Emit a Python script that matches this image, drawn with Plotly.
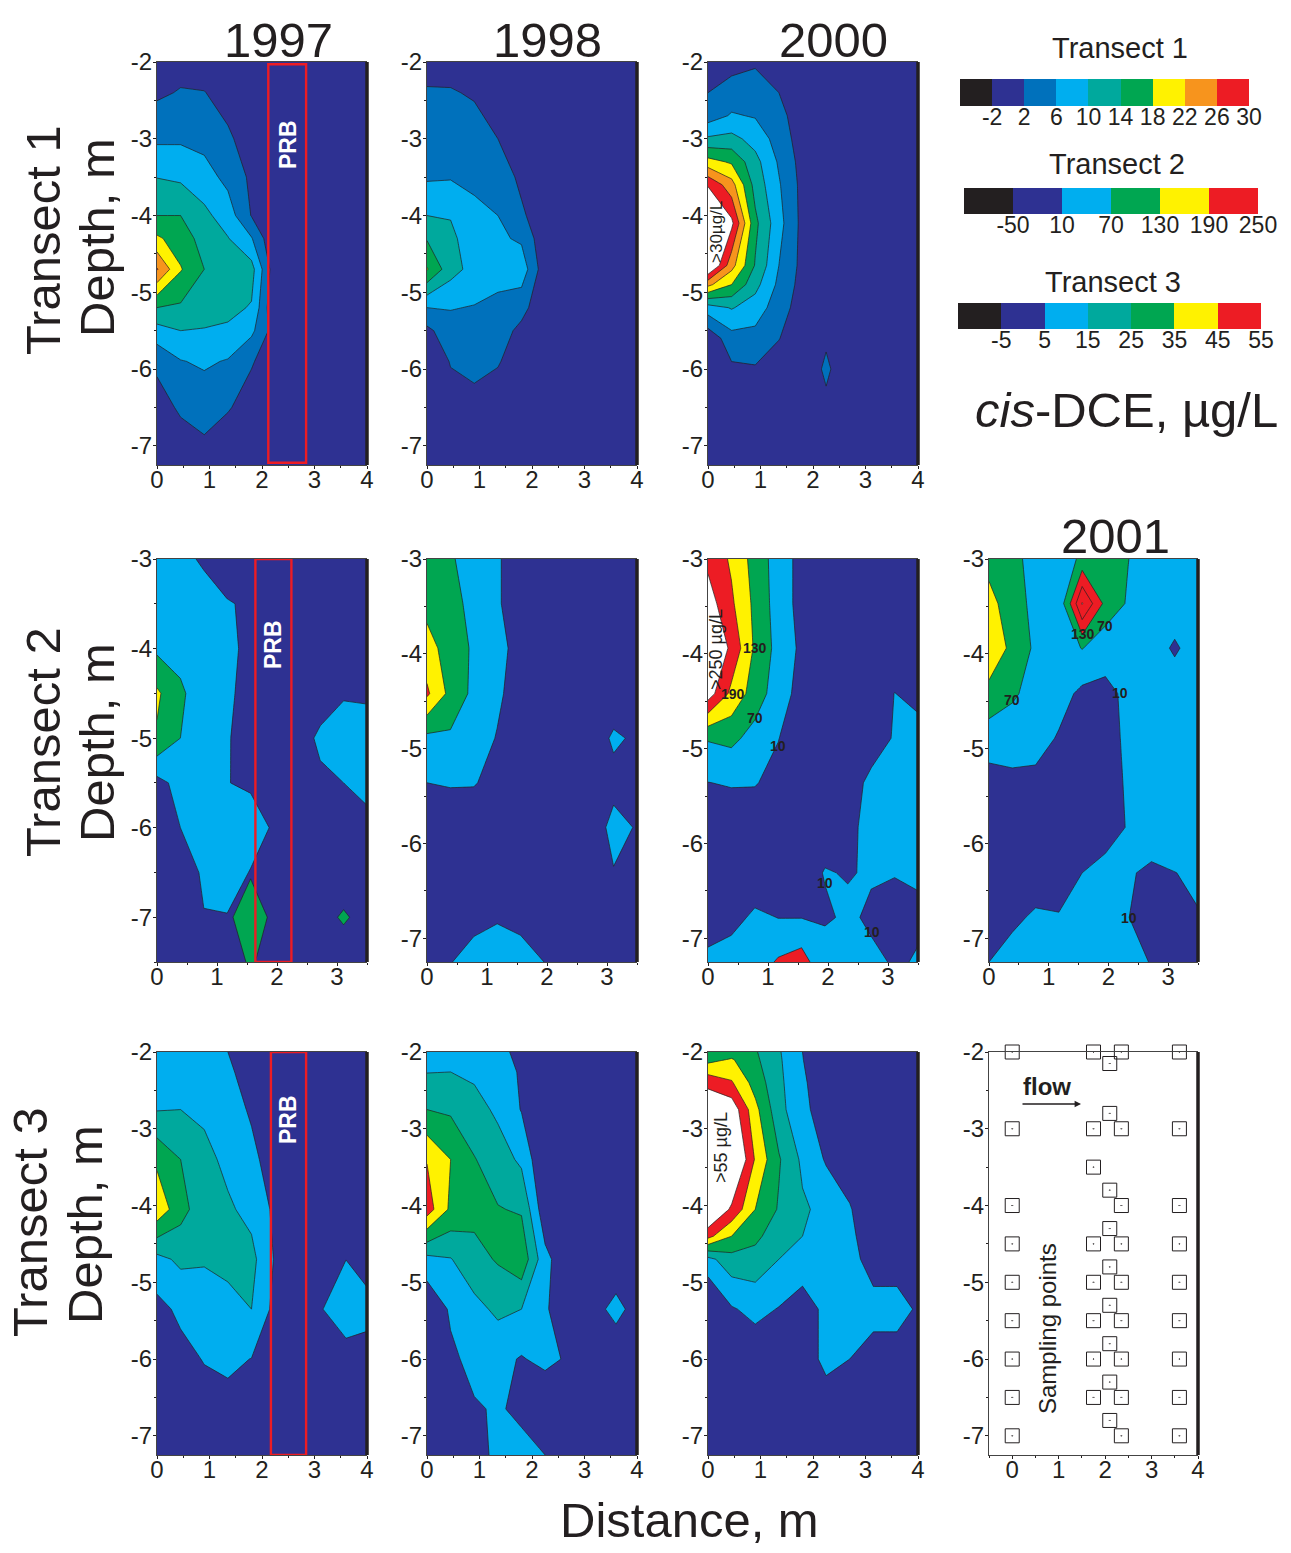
import plotly.graph_objects as go

W, H = 1291, 1553
FONT = "Liberation Sans"
INK = "#231F20"
NAVY, BLUE, SKY, TEAL, GREEN, YELLOW, ORANGE, RED = (
    "#2E3192", "#0071BC", "#00AEEF", "#00A99D", "#00A651", "#FFF200", "#F7941D", "#ED1C24")

# ---- node positions -------------------------------------------------------
X45 = [0, .45, .9, 1.35, 1.8, 2.25, 2.7, 3.15, 3.6, 4]
X39 = [0, .39, .78, 1.17, 1.56, 1.95, 2.33, 2.72, 3.11, 3.5]
Y1A = [-2, -2.4, -3, -3.5, -4, -4.3, -4.7, -5.2, -5.5, -5.9, -6.5, -6.9, -7.25]
Y1B = [-2, -2.4, -2.7, -3, -3.3, -3.6, -4.1, -4.65, -4.9, -5.2, -5.6, -6, -6.4, -7.25]
Y2A = [-3, -3.5, -4, -4.5, -5, -5.5, -6, -6.5, -7, -7.5]
Y2B = [-3, -3.47, -3.94, -4.42, -4.89, -5.36, -5.83, -6.31, -6.78, -7.25]
Y3A = [-2, -2.26, -2.75, -3.4, -4.05, -4.7, -5.35, -6, -6.65, -7.25]
Y3B = [-2, -2.1, -2.4, -2.75, -3.4, -4.05, -4.4, -4.7, -5.35, -6, -6.65, -7.25]

# ---- concentrations (one inner list per x node) ----------------------------
T1_1997 = [
    [0, 1.3, 5.3, 9.9, 14, 18.7, 26.3, 14, 8.4, 3, 0, 0, 0],
    [.5, 2.3, 5.4, 9.3, 14, 16, 18.3, 13.4, 10, 5.8, 2.7, .5, 0],
    [.5, 2.1, 4.8, 7.6, 11, 12.5, 14, 11.5, 9.8, 6.6, 3.6, 1.8, 0],
    [0, .8, 2.5, 4.9, 8, 10.2, 12.5, 11, 9.4, 5.7, 2.3, .5, 0],
    [0, 0, .5, 1.2, 1.8, 6.3, 11.5, 9.7, 6.9, 2.3, .5, 0, 0],
    [0, 0, 0, 0, 0, -2, -.7, -1.9, 0, 0, 0, 0, 0],
    [0, 0, 0, 0, 0, 0, 0, 0, 0, 0, 0, 0, 0],
    [0, 0, 0, 0, 0, 0, 0, 0, 0, 0, 0, 0, 0],
    [0, 0, 0, 0, 0, 0, 0, 0, 0, 0, 0, 0, 0],
    [0, 0, 0, 0, 0, 0, 0, 0, 0, 0, 0, 0, 0],
]
T1_1998 = [
    [0, 2.5, 4.1, 5.5, 10, 13.7, 18.3, 6, 1, -2, -2, -2, -2],
    [.5, 2.3, 4.2, 5.7, 9.8, 10.8, 11.5, 6.2, 4.5, 2.3, 0, 0, 0],
    [0, 1.6, 3.7, 5.1, 7, 8, 8.6, 5.8, 4.3, 3, .9, 0, 0],
    [0, .5, 2, 3.8, 6, 6.7, 7.5, 5, 3.8, 2.3, 0, 0, 0],
    [0, 0, .5, 1.3, 2.5, 5.4, 8.4, 3.3, 1, 0, 0, 0, 0],
    [0, 0, 0, 0, 0, -1, -.6, -1, 0, 0, 0, 0, 0],
    [0, 0, 0, 0, 0, 0, 0, 0, 0, 0, 0, 0, 0],
    [0, 0, 0, 0, 0, 0, 0, 0, 0, 0, 0, 0, 0],
    [0, 0, 0, 0, 0, 0, 0, 0, 0, 0, 0, 0, 0],
    [0, 0, 0, 0, 0, 0, 0, 0, 0, 0, 0, 0, 0],
]
T1_2000 = [
    [0, 2, 4, 10.6, 19.5, 29.6, 38, 36, 23, 8.2, -1, 0, 0, 0],
    [.5, 3.8, 6.4, 11.2, 17.4, 23.6, 31, 23.5, 18, 10.3, 4.5, 1.2, 0, 0],
    [1.5, 3.9, 5.7, 8.5, 11.3, 12.5, 15, 13.7, 11.3, 8.1, 4.6, 1.6, 0, 0],
    [.5, 2, 3.1, 4.3, 5.5, 6.4, 7.4, 6, 5.1, 3.9, 2.1, .5, 0, 0],
    [0, 0, 0, 0, .5, .8, .8, .8, .5, 0, 0, 0, 0, 0],
    [0, 0, 0, 0, 0, 0, 0, 0, 0, 0, 1.6, 2.5, 1.6, 0],
    [0, 0, 0, 0, 0, 0, 0, 0, 0, 0, 0, 0, 0, 0],
    [0, 0, 0, 0, 0, 0, 0, 0, 0, 0, 0, 0, 0, 0],
    [0, 0, 0, 0, 0, 0, 0, 0, 0, 0, 0, 0, 0, 0],
    [0, 0, 0, 0, 0, 0, 0, 0, 0, 0, 0, 0, 0, 0],
]
T2_1997 = [
    [30, 40, 58, 140, 123, -9, -30, -30, -30, -30],
    [30, 40, 50, 80, 70, 30, 10, -20, -20, -20],
    [0, 40, 40, 37, 35, 30, 25, 18, 8, -20],
    [-30, 15, 30, 25, 20, 10.5, 25, 20, 9, -20],
    [-30, 0, -11, -20, -45, 7, 20, 9, -20, -20],
    [-30, -30, -30, -30, -30, -30, 7.4, -30, -30, -30],
    [-30, -30, -30, -30, -30, -30, -30, -30, -30, -30],
    [-30, -30, -30, -30, 25, -5, -30, -30, -30, -30],
    [-30, -30, -30, 4, 40, 10, -30, -30, -30, -30],
    [-30, -30, -30, .5, 40, 22, -2, -30, -30, -30],
]
T2_1998 = [
    [90, 110, 155, 200, 55, 10, -30, -30, -30, -30],
    [78, 85, 101, 112, 60, 15, -30, -30, -30, 8],
    [39, 57, 62, 55.5, 50, 14, -30, -30, -5, 30],
    [18.5, 18.5, 45, 25, 5.5, -10, -30, -30, 5, 40],
    [-30, -30, -30, -30, -30, -30, -30, -30, 0, 25],
    [-30, -30, -30, -30, -30, -30, -30, -30, -30, 10],
    [-30, -30, -30, -30, -30, -30, -30, -30, -30, -30],
    [-30, -30, -30, -30, -30, -30, -30, -30, -30, -30],
    [-30, -30, -30, -30, 20, -10, 30, 6.6, -30, -30],
    [-30, -30, -30, -30, 0, -30, 5.6, -30, -30, -30],
]
T2_2000 = [
    [235, 280, 330, 280, 75, 9, -30, -30, -30, 30],
    [181, 200, 236, 175, 85, 15, -30, -30, -10, 40],
    [107, 116, 121, 102, 48, 14, -30, -30, 21, 40],
    [43, 43, 50, 39, 12, -10, -30, -30, 9, 60],
    [-10, -10, -2, -12, -30, -30, -30, -30, 9, 65],
    [-30, -30, -30, -30, -30, -30, -30, 15, -3, 65],
    [-30, -30, -30, -30, -30, -30, -5, 5, 25, 50],
    [-30, -30, -30, -30, -30, 30, 29, 18, -4, 29],
    [-30, -30, -30, 11, 17, 35, 35, 13, -15, 2],
    [-30, -30, -30, -5, 30, 35, 35, 16, 1, 15],
]
T2_2001 = [
    [110, 150, 165, 115, 35, -10, -30, -30, -30, 10],
    [85, 98, 118, 78, 40, -5, -30, -30, -5, 40],
    [51, 52.5, 58, 50, 37, -8, -30, -30, 21, 50],
    [40, 55.8, 40, 35, 4, -30, -30, -20, 14, 50],
    [80, 125, 72, -4, -30, -30, -30, 10, 40, 50],
    [85, 100, 40, -8, -30, -30, -10, 25, 45, 50],
    [71, 65, 45, 25, 31, 22, 13, 20, 11, 45],
    [40, 40, 27, 50, 50, 50, 65, -8, -10, 5],
    [40, 30, 5, 31, 50, 50, 50, 9, -10, -10],
    [35, 35, 27, 35, 40, 40, 40, 20, 7, -10],
]
T3_1997 = [
    [11, 12, 14.5, 33, 42, 12, 2, -2, -2, -2],
    [10, 12, 15, 25, 28.6, 17, 7, 2, 0, 0],
    [9, 11, 13, 18, 19, 16, 9.5, 5.5, 1, 0],
    [5, 6, 8.5, 12.5, 16.5, 17.5, 12, 7, 1.8, 0],
    [2, 2.5, 4, 7, 12, 18, 15, 4.8, 0, 0],
    [0, 0, 0, 1, 3, 4, 2, 0, 0, 0],
    [0, 0, 0, 0, 0, 0, 0, 0, 0, 0],
    [0, 0, 0, 0, 0, 0, 4.8, 0, 0, 0],
    [0, 0, 0, 0, 0, 4.9, 12, 0, 0, 0],
    [0, 0, 0, 0, 0, 0, 9, 0, 0, 0],
]
T3_1998 = [
    [12, 14.7, 25, 44.5, 50, 12, -4, -5, -5, -5],
    [12, 15, 23.5, 35, 33, 14.5, 6.5, 3, -5, -5],
    [10, 13, 19, 25.5, 28, 21.5, 12, 8, 4, -5],
    [7, 9, 13, 20, 25.5, 26, 17, 8, 6, 11],
    [3, 4, 4.5, 13, 24, 32, 15, 4.2, 3, 8],
    [0, 0, -1, -5, -2, 8, 6.8, 8, -5, 5],
    [0, 0, -5, -5, -5, -3, -5, 3.5, -5, -5],
    [0, 0, 0, 0, 0, 0, 1.25, 0, 0, 0],
    [0, 0, 0, 0, 0, -1.7, 8, -2, 0, 0],
    [0, 0, 0, 0, 0, 0, 1.25, 0, 0, 0],
]
T3_2000 = [
    [28, 32, 52, 65, 75, 70, 48, 12, -8, -10, -10, -10],
    [30, 36, 46, 62, 72, 53, 35, 21, 4, -10, -10, -10],
    [26, 27, 31, 38, 44, 35, 27.5, 21, 8, -2, -10, -10],
    [16, 16.5, 17.5, 18.5, 26, 24, 19, 15, 4.5, -5, -10, -10],
    [5, 5.2, 6, 7, 13, 16.5, 15, 12, -1, -5, -5, -5],
    [0, 0, 1, 1, 4, 12, 11, 10, 8, 10, -5, -5],
    [-2, -2, -2, -2, -2, 6, 8, 10, 10, 5, -5, -5],
    [-5, -5, -5, -5, -5, -5, -3, -1, 10, -1, -5, -5],
    [-5, -5, -5, -5, -5, -5, -5, -1, 10, -1, -5, -5],
    [-5, -5, -5, -5, -5, -5, -5, -5, 3.3, -5, -5, -5],
]

# isolated spots that jump straight to a high band
SPOT_97_X = [1.17, 1.56, 1.95, 2.72, 3.11, 3.5]
SPOT_97_Y = [-6.5, -7, -7.5]
SPOT_97_Z = [[50, 60, 50], [65, 100, 75], [50, 58, 50], [0, 41, 0], [21, 80, 21], [0, 41, 0]]
SPOT_00_X = [.78, 1.17, 1.56, 1.95]
SPOT_00_Y = [-6.78, -7.25]
SPOT_00_Z = [[100, 144], [106, 200], [105, 230], [100, 119]]
SPOT_01_X = [1.17, 1.56, 1.95]
SPOT_01_Y = [-3, -3.47, -3.94]
SPOT_01_Z = [[0, 14, 0], [127, 375, 111], [0, 163, 0]]

# ---- sampling points -------------------------------------------------------
SAMPLE_X = [0] * 9 + [1.75] * 8 + [2.1] * 9 + [2.35] * 9 + [3.6] * 9
SAMPLE_Y = [-2, -3, -4, -4.5, -5, -5.5, -6, -6.5, -7,
            -2, -3, -3.5, -4.5, -5, -5.5, -6, -6.5,
            -2.15, -2.8, -3.8, -4.3, -4.8, -5.3, -5.8, -6.3, -6.8,
            -2, -3, -4, -4.5, -5, -5.5, -6, -6.5, -7,
            -2, -3, -4, -4.5, -5, -5.5, -6, -6.5, -7]

# ---- legend ----------------------------------------------------------------
LEG1_EDGES = [-6, -2, 2, 6, 10, 14, 18, 22, 26, 30]
LEG2_EDGES = [-110, -50, 10, 70, 130, 190, 250]
LEG3_EDGES = [-15, -5, 5, 15, 25, 35, 45, 55]
LEG1_COLORS = [INK, NAVY, BLUE, SKY, TEAL, GREEN, YELLOW, ORANGE, RED]
LEG2_COLORS = [INK, NAVY, SKY, GREEN, YELLOW, RED]
LEG3_COLORS = [INK, NAVY, SKY, TEAL, GREEN, YELLOW, RED]

PRB_1 = [2.12, 2.84, -2.03, -7.22]
PRB_2 = [1.64, 2.24, -3.0, -7.5]
PRB_3 = [2.17, 2.84, -2.0, -7.25]

T1_COLS = [NAVY, BLUE, SKY, TEAL, GREEN, YELLOW, ORANGE, RED, "#FFFFFF"]
T2_COLS = [NAVY, SKY, GREEN, YELLOW, RED, "#FFFFFF"]
T3_COLS = [NAVY, SKY, TEAL, GREEN, YELLOW, RED, "#FFFFFF"]

COLS = [(157, 367), (427, 637), (708, 918), (989, 1198)]
ROWS = [(62, 465), (559, 962), (1052, 1455)]

fig = go.Figure()
layout = {}
shapes, notes = [], []


def fx(p):
    return p / W


def fy(p):
    return 1 - p / H


def ramp(colors):
    n = len(colors) - 1
    return [[i / n, c] for i, c in enumerate(colors)]


def axes(n, col, row, xr, yr, xt, yt):
    sfx = "" if n == 1 else str(n)
    xmid = [xr[0] + .5 * i for i in range(int((xr[1] - xr[0]) * 2) + 1)]
    ymid = [yr[1] - .5 * i for i in range(int((yr[1] - yr[0]) * 2) + 1)]
    common = dict(showgrid=False, zeroline=False, showline=True, linecolor="#444444", linewidth=1,
                  ticks="outside", ticklen=3, tickwidth=1, tickcolor=INK, layer="above traces", automargin=False,
                  tickfont=dict(family=FONT, size=24, color=INK), tickmode="array", fixedrange=True)
    layout["xaxis" + sfx] = dict(common, domain=[fx(COLS[col][0]), fx(COLS[col][1])], range=xr,
                                 anchor="y" + sfx, tickvals=xt, ticktext=[str(v) for v in xt], mirror=True,
                                 ticklabelstandoff=-10,
                                 minor=dict(ticks="outside", ticklen=2, tickcolor=INK, tickmode="array", tickvals=xmid))
    layout["yaxis" + sfx] = dict(common, domain=[fy(ROWS[row][1]), fy(ROWS[row][0])], range=yr,
                                 anchor="x" + sfx, tickvals=yt, ticktext=[str(v) for v in yt],
                                 ticklabelstandoff=-4,
                                 minor=dict(ticks="outside", ticklen=2, tickcolor=INK, tickmode="array", tickvals=ymid))
    shapes.append(dict(type="line", xref=f"x{sfx} domain", yref=f"y{sfx} domain", x0=1, x1=1, y0=0, y1=1,
                       line=dict(color=INK, width=3.5)))
    return ("x" + sfx, "y" + sfx)


def contour(ref, x, y, z, start, end, size, colors):
    fig.add_trace(go.Contour(x=x, y=y, z=z, transpose=True, xaxis=ref[0], yaxis=ref[1], autocontour=False,
                             contours=dict(start=start, end=end, size=size, coloring="fill", showlines=True),
                             colorscale=ramp(colors), showscale=False, hoverinfo="skip",
                             line=dict(color=INK, width=.7, smoothing=0)))


def prb(ref, box):
    shapes.append(dict(type="rect", xref=ref[0], yref=ref[1], x0=box[0], x1=box[1], y0=box[2], y1=box[3],
                       line=dict(color=RED, width=2.4)))


def note(px, py, text, size, angle=0, color=INK, bold=False):
    t = f"<b>{text}</b>" if bold else text
    notes.append(dict(xref="paper", yref="paper", x=fx(px), y=fy(py), text=t, showarrow=False, textangle=angle,
                      xanchor="center", yanchor="middle", font=dict(family=FONT, size=size, color=color)))


T0 = [0, 1, 2, 3, 4]
T05 = [0, 1, 2, 3]
YA = [-2, -3, -4, -5, -6, -7]
YB = [-3, -4, -5, -6, -7]

# row 1
r = axes(1, 0, 0, [0, 4], [-7.25, -2], T0, YA); contour(r, X45, Y1A, T1_1997, 2, 30, 4, T1_COLS); prb(r, PRB_1)
r = axes(2, 1, 0, [0, 4], [-7.25, -2], T0, YA); contour(r, X45, Y1A, T1_1998, 2, 30, 4, T1_COLS)
r = axes(3, 2, 0, [0, 4], [-7.25, -2], T0, YA); contour(r, X45, Y1B, T1_2000, 2, 30, 4, T1_COLS)
# row 2
r = axes(4, 0, 1, [0, 3.5], [-7.5, -3], T05, YB); contour(r, X39, Y2A, T2_1997, 10, 250, 60, T2_COLS)
contour(r, SPOT_97_X, SPOT_97_Y, SPOT_97_Z, 70, 70, 60, ["rgba(0,0,0,0)", GREEN]); prb(r, PRB_2)
r = axes(5, 1, 1, [0, 3.5], [-7.25, -3], T05, YB); contour(r, X39, Y2B, T2_1998, 10, 250, 60, T2_COLS)
r = axes(6, 2, 1, [0, 3.5], [-7.25, -3], T05, YB); contour(r, X39, Y2B, T2_2000, 10, 250, 60, T2_COLS)
contour(r, SPOT_00_X, SPOT_00_Y, SPOT_00_Z, 190, 190, 60, ["rgba(0,0,0,0)", RED])
r = axes(7, 3, 1, [0, 3.5], [-7.25, -3], T05, YB); contour(r, X39, Y2B, T2_2001, 10, 250, 60, T2_COLS)
contour(r, SPOT_01_X, SPOT_01_Y, SPOT_01_Z, 190, 370, 90, ["rgba(0,0,0,0)", RED, RED, "#FFFFFF"])
# row 3
r = axes(8, 0, 2, [0, 4], [-7.25, -2], T0, YA); contour(r, X45, Y3A, T3_1997, 5, 55, 10, T3_COLS); prb(r, PRB_3)
r = axes(9, 1, 2, [0, 4], [-7.25, -2], T0, YA); contour(r, X45, Y3A, T3_1998, 5, 55, 10, T3_COLS)
r = axes(10, 2, 2, [0, 4], [-7.25, -2], T0, YA); contour(r, X45, Y3B, T3_2000, 5, 55, 10, T3_COLS)
r = axes(11, 3, 2, [-.5, 4], [-7.25, -2], T0, YA)
fig.add_trace(go.Scatter(x=SAMPLE_X, y=SAMPLE_Y, mode="markers", xaxis=r[0], yaxis=r[1], cliponaxis=False,
                         hoverinfo="skip", showlegend=False,
                         marker=dict(symbol="square-open-dot", size=14, color=INK, line=dict(color=INK, width=1))))


def legend(n, px0, px1, py0, py1, edges, colors):
    sfx = str(n)
    ticks = edges[1:]
    layout["xaxis" + sfx] = dict(domain=[fx(px0), fx(px1)], range=[edges[0], edges[-1]], anchor="y" + sfx,
                                 showgrid=False, zeroline=False, showline=False, ticks="", fixedrange=True,
                                 automargin=False, tickmode="array", tickvals=ticks, ticklabelstandoff=-5,
                                 ticktext=[str(v) for v in ticks], tickfont=dict(family=FONT, size=23, color=INK))
    layout["yaxis" + sfx] = dict(domain=[fy(py1), fy(py0)], range=[0, 1], anchor="x" + sfx, visible=False,
                                 fixedrange=True, automargin=False)
    fig.add_trace(go.Heatmap(x=edges, y=[0, 1], z=[list(range(len(colors)))], xaxis="x" + sfx, yaxis="y" + sfx,
                             colorscale=ramp(colors), showscale=False, hoverinfo="skip", zsmooth=False))


legend(12, 960, 1249, 79, 106, LEG1_EDGES, LEG1_COLORS)
legend(13, 964, 1258, 188, 214, LEG2_EDGES, LEG2_COLORS)
legend(14, 958, 1261, 303, 329, LEG3_EDGES, LEG3_COLORS)

# ---- texts -----------------------------------------------------------------
for px, py, s in [(278, 40, "1997"), (547, 40, "1998"), (833, 40, "2000"), (1115, 536, "2001")]:
    note(px, py, s, 49)
for px, py, s in [(43, 240, "Transect 1"), (97, 238, "Depth, m"), (43, 742, "Transect 2"), (97, 743, "Depth, m"),
                  (30, 1222, "Transect 3"), (85, 1225, "Depth, m")]:
    note(px, py, s, 49, angle=-90)
note(689, 1520, "Distance, m", 49)
note(1120, 48, "Transect 1", 29)
note(1117, 164, "Transect 2", 29)
note(1113, 282, "Transect 3", 29)
note(1126, 410, "<i>cis</i>-DCE, µg/L", 49)
for px, py in [(288, 145), (273, 645), (288, 1120)]:
    note(px, py, "PRB", 23, angle=-90, color="#FFFFFF", bold=True)
note(716, 232, "&gt;30µg/L", 17, angle=-90)
note(716, 650, "&gt;250 µg/L", 18, angle=-90)
note(721, 1148, "&gt;55 µg/L", 18, angle=-90)
for px, py, s in [(755, 648, "130"), (733, 694, "190"), (755, 718, "70"), (778, 746, "10"), (825, 883, "10"),
                  (872, 932, "10"), (1012, 700, "70"), (1083, 634, "130"), (1105, 626, "70"), (1120, 693, "10"),
                  (1129, 918, "10")]:
    note(px, py, s, 14, bold=True)
note(1047, 1086, "flow", 24, bold=True)
note(1047, 1329, "Sampling points", 24, angle=-90)
notes.append(dict(xref="paper", yref="paper", x=fx(1081), y=fy(1104), ax=-60, ay=0, text="", showarrow=True,
                  arrowhead=2, arrowsize=.8, arrowwidth=1.6, arrowcolor=INK))

fig.update_layout(width=W, height=H, margin=dict(l=0, r=0, t=0, b=0, autoexpand=False), autosize=False,
                  showlegend=False, paper_bgcolor="white", plot_bgcolor="white", shapes=shapes, annotations=notes,
                  **layout)
fig.write_html("out.html", post_script="document.body.style.margin='0';", config=dict(displayModeBar=False))
